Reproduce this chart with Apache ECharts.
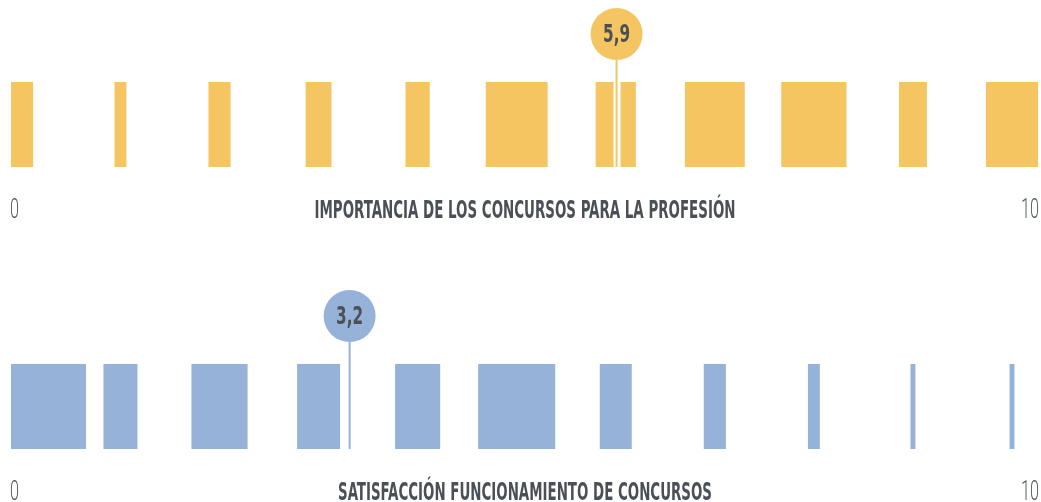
<!doctype html>
<html>
<head>
<meta charset="utf-8">
<script src="https://cdn.jsdelivr.net/npm/echarts@6/dist/echarts.min.js"></script>
<style>
	html, body { margin: 0; padding: 0; background: #fff; }
	#chart { width: 1041px; height: 502px; }
</style>
</head>
<body>
<div id="chart"></div>
<script>
// puntuaciones 0..10, % de respuestas por puntuación
var scores = [0, 1, 2, 3, 4, 5, 6, 7, 8, 9, 10]
var importancia = [5.4, 2.9, 5.4, 6.3, 5.9, 15.1, 9.8, 14.6, 15.9, 6.8, 12.7]
var satisfaccion = [18.3, 8.3, 13.7, 10.5, 11.0, 18.8, 7.8, 5.4, 2.9, 1.2, 1.2]
var medias = [5.9, 3.2]
var mediaLabels = ['5,9', '3,2']
var titles = ['IMPORTANCIA DE LOS CONCURSOS PARA LA PROFESIÓN', 'SATISFACCIÓN FUNCIONAMIENTO DE CONCURSOS']
var endLabels = ['0', '10']

var colors = ['#F4C561', '#96B2D9']
var PX_PER_PCT = 4.1
var EDGE_L = 11, EDGE_R = 1039
var GRID_TOPS = [82, 364]
var TITLE_FONT = 'bold 25px "DejaVu Sans Condensed"'
var BADGE_FONT = 'bold 25px "DejaVu Sans Condensed"'
var TEXT_DARK = '#4b5056'

var measure = document.createElement('canvas').getContext('2d')
function fitScale(text, font, width) {
	measure.font = font
	return width / measure.measureText(text).width
}

function barItem(color) {
	return function (params, api) {
		var k = api.value(0)
		var base = api.coord([k, 0])
		var top = api.coord([k, 1])
		var w = api.value(1) * PX_PER_PCT
		var x0 = base[0] - w / 2
		if (x0 < EDGE_L) x0 = EDGE_L
		if (x0 + w > EDGE_R) x0 = EDGE_R - w
		return {
			type: 'rect',
			shape: { x: x0, y: top[1], width: w, height: base[1] - top[1] },
			style: { fill: color }
		}
	}
}

function markerItem(color, label) {
	return function (params, api) {
		var base = api.coord([api.value(0), 0])
		var top = api.coord([api.value(0), 1])
		var cx = base[0], cy = top[1] - 48, r = 26
		return {
			type: 'group',
			children: [
				{ type: 'line', shape: { x1: cx + 0.5, y1: cy + r, x2: cx + 0.5, y2: base[1] }, style: { stroke: '#fff', lineWidth: 7 } },
				{ type: 'line', shape: { x1: cx, y1: cy + r, x2: cx, y2: base[1] }, style: { stroke: color, lineWidth: 2 } },
				{ type: 'circle', shape: { cx: cx, cy: cy, r: r }, style: { fill: color } },
				{
					type: 'text', x: cx, y: cy + 1,
					scaleX: fitScale(label, BADGE_FONT, 27),
					style: { text: label, font: BADGE_FONT, fill: TEXT_DARK, align: 'center', verticalAlign: 'middle' }
				}
			]
		}
	}
}

var rows = [importancia, satisfaccion]
var grid = [], xAxis = [], yAxis = [], series = [], graphic = []

rows.forEach(function (values, i) {
	grid.push({ left: 21.4, width: 990.6, top: GRID_TOPS[i], height: 85 })
	xAxis.push({ type: 'value', gridIndex: i, min: 0, max: 10, show: false })
	xAxis.push({ type: 'value', gridIndex: i, min: -0.12, max: 9.9, show: false })
	yAxis.push({ type: 'value', gridIndex: i, min: 0, max: 1, show: false })

	series.push({
		type: 'custom',
		xAxisIndex: 2 * i,
		yAxisIndex: i,
		data: values.map(function (v, k) { return [scores[k], v] }),
		renderItem: barItem(colors[i]),
		silent: true
	})
	series.push({
		type: 'custom',
		xAxisIndex: 2 * i + 1,
		yAxisIndex: i,
		data: [[medias[i], 0]],
		renderItem: markerItem(colors[i], mediaLabels[i]),
		silent: true,
		z: 5
	})

	var ty = GRID_TOPS[i] + 129
	graphic.push({
		type: 'text', x: 525, y: ty,
		scaleX: fitScale(titles[i], TITLE_FONT, i === 0 ? 421 : 374),
		style: { text: titles[i], font: TITLE_FONT, fill: TEXT_DARK, align: 'center', verticalAlign: 'middle' }
	})
	var numFont = '300 27px Roboto'
	graphic.push({
		type: 'text', x: 10, y: ty, scaleX: 0.6,
		style: { text: endLabels[0], font: numFont, fill: '#575c61', align: 'left', verticalAlign: 'middle' }
	})
	graphic.push({
		type: 'text', x: 1039, y: ty, scaleX: 0.6,
		style: { text: endLabels[1], font: numFont, fill: '#575c61', align: 'right', verticalAlign: 'middle' }
	})
})

var chart = echarts.init(document.getElementById('chart'))
chart.setOption({
	animation: false,
	backgroundColor: '#fff',
	grid: grid,
	xAxis: xAxis,
	yAxis: yAxis,
	series: series,
	graphic: graphic
})
</script>
</body>
</html>
